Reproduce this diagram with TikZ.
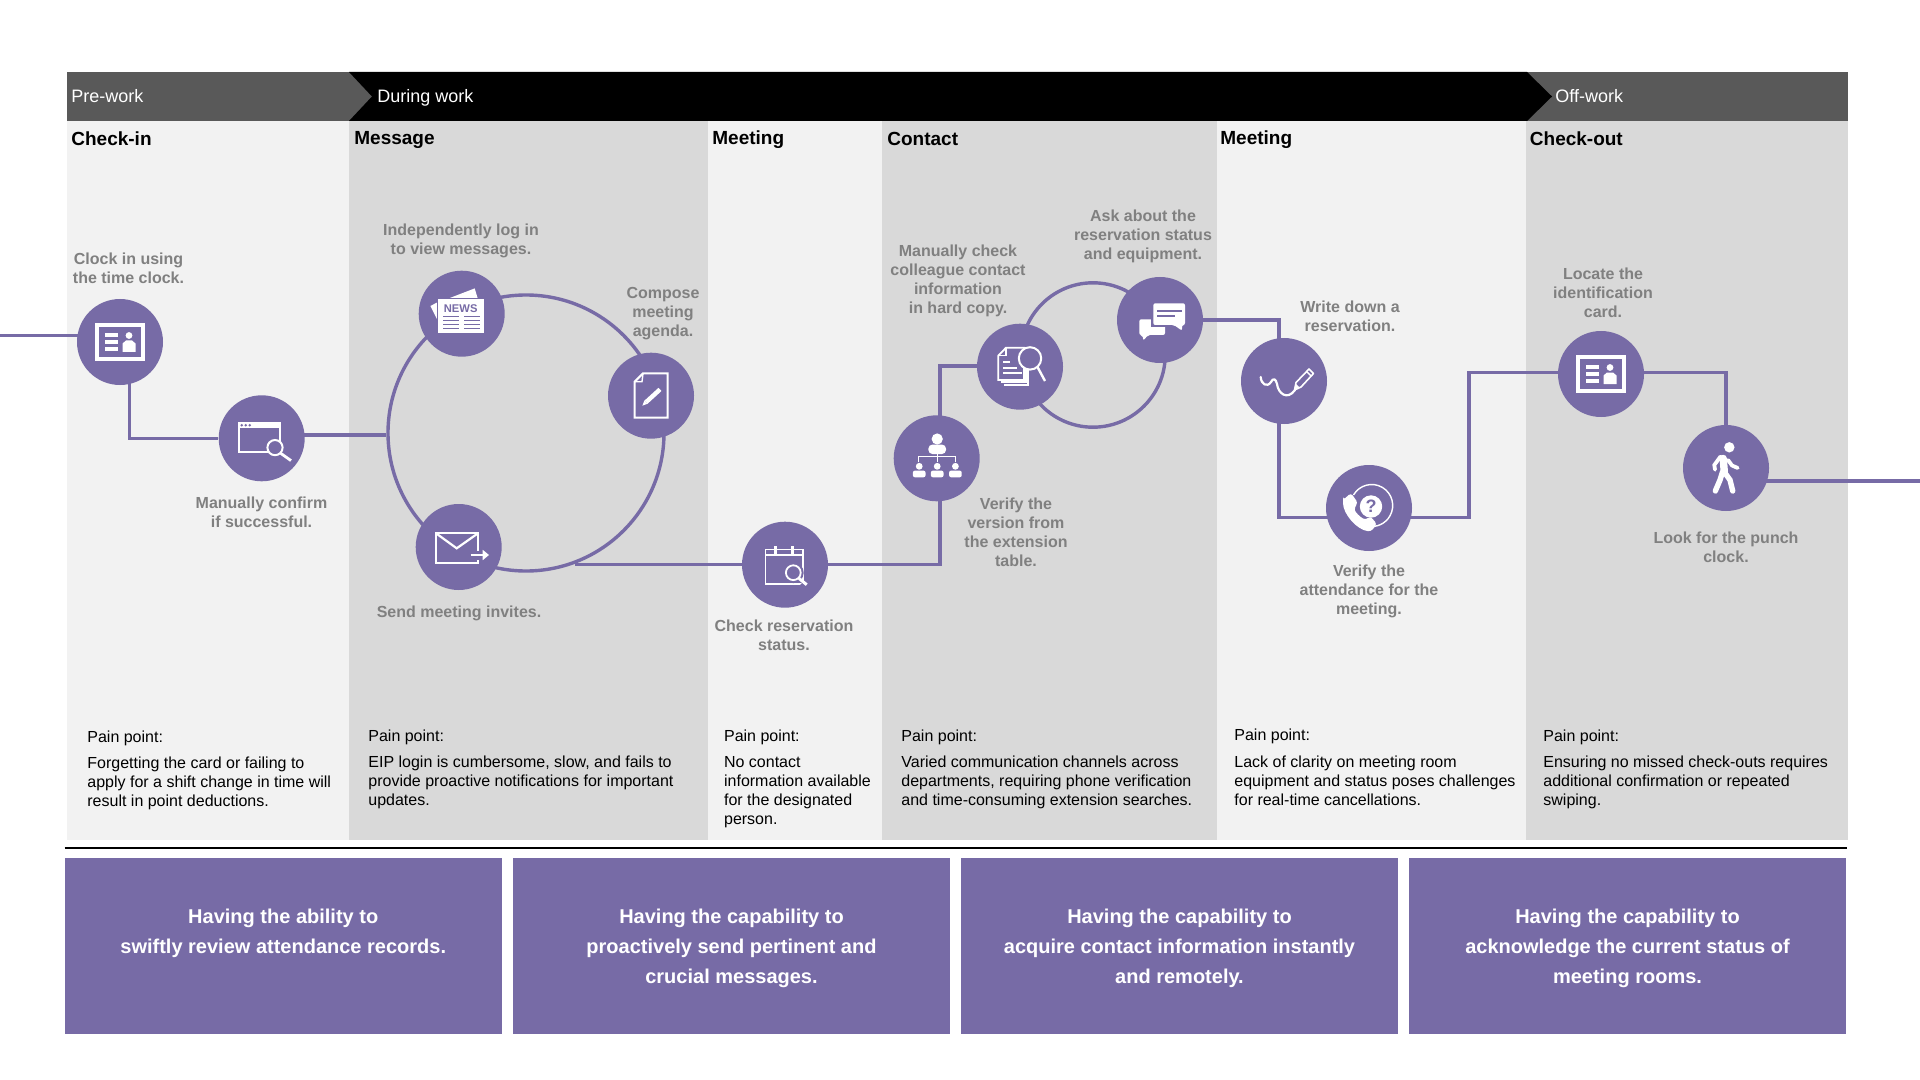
\documentclass[tikz,border=0pt]{standalone}
\usepackage{fontspec}
\setmainfont{Liberation Sans}
\usetikzlibrary{backgrounds}
\definecolor{purp}{HTML}{776BA6}
\definecolor{lightcol}{HTML}{F2F2F2}
\definecolor{darkcol}{HTML}{D9D9D9}
\definecolor{headgray}{HTML}{595959}
\definecolor{labgray}{HTML}{808080}
\tikzset{
  stepdot/.style={circle,fill=purp,minimum size=43pt,inner sep=0pt},
  conn/.style={draw=purp,line width=1.7pt},
  ringnode/.style={circle,draw=purp,line width=1.7pt,inner sep=0pt},
  lab/.style={align=center,text=labgray,inner sep=0pt,font=\fontsize{8.0}{9.5}\selectfont\bfseries},
  headtxt/.style={anchor=base west,text=white,inner sep=0pt,font=\fontsize{9.0}{11}\selectfont},
  coltitle/.style={anchor=base west,text=black,inner sep=0pt,font=\fontsize{9.5}{12}\selectfont\bfseries},
  pain/.style={anchor=west,align=left,text=black,inner sep=0pt,font=\fontsize{8.0}{9.5}\selectfont},
  boxnode/.style={fill=purp,text=white,align=center,inner sep=0pt,minimum width=218.5pt,minimum height=88pt,font=\fontsize{10}{15}\selectfont\bfseries},
  icl/.style={draw=white,line width=0.9pt},
  icf/.style={fill=white},
  icp/.style={fill=purp}
}
\newcommand{\idicon}{%
  \fill[icf] (-25,-19) rectangle (25,19);
  \fill[icp] (-21,-15) rectangle (21,15);
  \fill[icf] (-15,-9) rectangle (-2,-5);
  \fill[icf] (-15,-2) rectangle (-2,2);
  \fill[icf] (-15,5) rectangle (-2,9);
  \fill[icf] (9,-6.5) circle (1.7pt);
  \fill[icf] (2.5,10) -- (2.5,1.5) -- (6,-1.5) -- (12,-1.5) -- (15.5,1.5) -- (15.5,10) -- cycle;
}
\newcommand{\toprule}{\rule{0pt}{9.7pt}}
\begin{document}
\begin{tikzpicture}[x=0.5pt,y=-0.5pt]
\useasboundingbox (0,0) rectangle (1920,1080);
% step circles
\node[stepdot] (c1) at (120,342) {};
\node[stepdot] (c2) at (261.7,438.3) {};
\node[stepdot] (news) at (461.7,313.7) {};
\node[stepdot] (docn) at (651,395.7) {};
\node[stepdot] (mail) at (458.7,547) {};
\node[stepdot] (cal) at (785,564.7) {};
\node[stepdot] (org) at (936.7,458.3) {};
\node[stepdot] (ds) at (1020,366.7) {};
\node[stepdot] (chat) at (1160,320) {};
\node[stepdot] (pen) at (1284,381) {};
\node[stepdot] (phone) at (1369,508) {};
\node[stepdot] (idc) at (1601,374) {};
\node[stepdot] (walk) at (1726,468) {};
% free ends and bends
\coordinate (start) at (0,335.7);
\coordinate (j1) at (129.5,438.3);
\coordinate (j2) at (340,434.8);
\coordinate (rj) at (575,564.2);
\coordinate (j3) at (940,564.7);
\coordinate (j4) at (940,366);
\coordinate (j5) at (1279,320);
\coordinate (j6) at (1279,517.5);
\coordinate (j7) at (1469,517.5);
\coordinate (j8) at (1469,372.5);
\coordinate (j9) at (1726,372.5);
\coordinate (out) at (1920,481);
\begin{pgfonlayer}{background}
  % columns
  \fill[lightcol] (67,121) rectangle (349,839.5);
  \fill[darkcol] (349,121) rectangle (708,839.5);
  \fill[lightcol] (708,121) rectangle (882,839.5);
  \fill[darkcol] (882,121) rectangle (1217,839.5);
  \fill[lightcol] (1217,121) rectangle (1526,839.5);
  \fill[darkcol] (1526,121) rectangle (1848,839.5);
  % header band
  \fill[headgray] (66.5,72) rectangle (1848,121);
  \fill[black] (349,72) -- (1527,72) -- (1552,96.5) -- (1527,121) -- (349,121) -- (372,96.5) -- cycle;
  \draw[black,line width=0.9pt] (64.5,848.2) -- (1846.5,848.2);
  % rings
  \node[ringnode,minimum size=138pt] (ring) at (526,433) {};
  \node[ringnode,minimum size=72.2pt] (ring2) at (1093,355) {};
  % connectors
  \draw[conn] (start) -- (start -| c1);
  \draw[conn] (c1 -| j1) -- (j1) -- (c2);
  \draw[conn] (c2 |- j2) -- (ring.west |- j2);
  \draw[conn] (rj) -- (rj -| cal);
  \draw[conn] (cal) -- (j3) -- (j3 |- org);
  \draw[conn] (j3 |- org) -- (j4) -- (j4 -| ds);
  \draw[conn] (chat) -- (j5) -- (j5 |- pen);
  \draw[conn] (j5 |- pen) -- (j6) -- (j6 -| phone);
  \draw[conn] (j6 -| phone) -- (j7) -- (j8) -- (j8 -| idc);
  \draw[conn] (j8 -| idc) -- (j9) -- (walk);
  \draw[conn] (walk |- out) -- (out);
\end{pgfonlayer}
% header text
\node[headtxt] (hpre) at (71,103) {Pre-work};
\node[headtxt] (hdur) at (377,103) {During work};
\node[headtxt] (hoff) at (1555,103) {Off-work};
% column titles
\node[coltitle] (t1) at (71,146) {Check-in};
\node[coltitle] (t2) at (354,145) {Message};
\node[coltitle] (t3) at (712,145) {Meeting};
\node[coltitle] (t4) at (887,146) {Contact};
\node[coltitle] (t5) at (1220,145) {Meeting};
\node[coltitle] (t6) at (1529.5,146) {Check-out};
% labels
\node[lab] (l1) at (128.5,268.2) {Clock in using\\the time clock.};
\node[lab] (l2) at (261.5,512) {Manually confirm\\if successful.};
\node[lab] (l3) at (461,240.7) {Independently log in\\to view messages.};
\node[lab] (l4) at (663,314) {Compose\\meeting\\agenda.};
\node[lab] (l5) at (459,613) {Send meeting invites.};
\node[lab] (l6) at (784,635.5) {Check reservation\\status.};
\node[lab] (l7) at (958,281.2) {Manually check\\colleague contact\\information\\in hard copy.};
\node[lab] (l8) at (1143,236) {Ask about the\\reservation status\\and equipment.};
\node[lab] (l9) at (1016,532.6) {Verify the\\version from\\the extension\\table.};
\node[lab] (l10) at (1350,316.5) {Write down a\\reservation.};
\node[lab] (l11) at (1369,591) {Verify the\\attendance for the\\meeting.};
\node[lab] (l12) at (1603,293) {Locate the\\identification\\card.};
\node[lab] (l13) at (1726,547) {Look for the punch\\clock.};
% pain points
\node[pain] (p1) at (87,770.3) {Pain point:\\[3.8pt]Forgetting the card or failing to\\apply for a shift change in time will\\result in point deductions.};
\node[pain] (p2) at (368,769.5) {Pain point:\\[3.8pt]EIP login is cumbersome, slow, and fails to\\provide proactive notifications for important\\updates.};
\node[pain] (p3) at (723.7,779) {Pain point:\\[3.8pt]No contact\\information available\\for the designated\\person.};
\node[pain] (p4) at (901,769.3) {Pain point:\\[3.8pt]Varied communication channels across\\departments, requiring phone verification\\and time-consuming extension searches.};
\node[pain] (p5) at (1234,767.3) {Pain point:\\[3.8pt]Lack of clarity on meeting room\\equipment and status poses challenges\\for real-time cancellations.};
\node[pain] (p6) at (1543,769.3) {Pain point:\\[3.8pt]Ensuring no missed check-outs requires\\additional confirmation or repeated\\swiping.};
% bottom boxes
\node[boxnode] (b1) at (283.25,946) {Having the ability to\\swiftly review attendance records.\\\mbox{}};
\node[boxnode] (b2) at (731.5,946) {\toprule Having the capability to\\proactively send pertinent and\\crucial messages.};
\node[boxnode] (b3) at (1179.5,946) {\toprule Having the capability to\\acquire contact information instantly\\and remotely.};
\node[boxnode] (b4) at (1627.5,946) {\toprule Having the capability to\\acknowledge the current status of\\meeting rooms.};
% icons
\begin{scope}[shift={(c1.center)}]\idicon\end{scope}
\begin{scope}[shift={(idc.center)}]\idicon\end{scope}
% browser search
\begin{scope}[shift={(c2.center)}]
  \draw[icl] (-22.5,-15) rectangle (18.5,13.5);
  \fill[icf] (-23.3,-15.7) rectangle (19,-10.5);
  \foreach \i in {-20,-16,-12}{\fill[icp] (\i,-13.1) circle (0.7pt);}
  \draw[icl,fill=purp,line width=1pt] (13.3,9.3) circle (3.8pt);
  \draw[icl,line width=1.4pt] (19,15) -- (29.3,22.3);
\end{scope}
% news
\begin{scope}[shift={(news.center)}]
  \fill[icf] (-13.7,-15) -- (13,-25.3) -- (16.3,-14.3) -- cycle;
  \fill[icf] (-31.3,-7.7) -- (-23.7,-11.7) -- (-23.7,7.3) -- cycle;
  \fill[icp] (-25.2,-15.8) rectangle (23.5,20.5);
  \fill[icf] (-23.7,-14.3) rectangle (22,19);
  \node[inner sep=0pt,text=purp,font=\fontsize{5.6}{6}\selectfont\bfseries] (newst) at (-1,-5.3) {NEWS};
  \foreach \y in {3,7,11,15}{
    \draw[draw=purp,line width=0.6pt] (-18.7,\y) -- (-2.7,\y);
    \draw[draw=purp,line width=0.6pt] (2.3,\y) -- (18.3,\y);}
\end{scope}
% document with pen
\begin{scope}[shift={(docn.center)}]
  \draw[icl,line width=1pt] (-8,-22.3) -- (16.6,-22.3) -- (16.6,22) -- (-16.3,22) -- (-16.3,-14) -- cycle;
  \draw[icl,line width=0.7pt] (-16.3,-14) -- (-9,-14) -- (-8,-22.3);
  \draw[draw=white,line width=2.2pt] (-5,6.5) -- (9,-6.3);
  \fill[icf] (-8.6,10) -- (-6.6,4.7) -- (-3.4,8) -- cycle;
\end{scope}
% mail
\begin{scope}[shift={(mail.center)}]
  \draw[icl,line width=1.1pt] (-22.7,-13.7) rectangle (19.3,15.7);
  \draw[icl,line width=1.1pt] (-22.7,-13.7) -- (-2,1.3) -- (19.3,-13.7);
  \fill[icp] (9,3.5) rectangle (31,12.5);
  \draw[draw=white,line width=1.3pt] (12,8) -- (27,8);
  \fill[icf] (30.3,8) -- (24,2.8) -- (24,13.2) -- cycle;
\end{scope}
% calendar search
\begin{scope}[shift={(cal.center)}]
  \draw[icl] (-19.5,-15.2) rectangle (17.8,19.2);
  \draw[icl] (-19.5,-9.7) -- (17.8,-9.7);
  \draw[draw=white,line width=1.6pt] (-9.3,-18.7) -- (-9.3,-10.7);
  \draw[draw=white,line width=1.6pt] (7.3,-18.7) -- (7.3,-10.7);
  \fill[icp] (8.3,8) circle (5.2pt);
  \draw[icl] (8.3,8) circle (3.7pt);
  \fill[icp] (21,21.5) -- (21,14) -- (14,21.5) -- cycle;
  \draw[draw=white,line width=1.5pt] (14,13.7) -- (21.7,20);
\end{scope}
% org chart
\begin{scope}[shift={(org.center)}]
  \fill[icf] (0.5,-19.3) circle (2.8pt);
  \fill[icf,rounded corners=2pt] (-8.3,-4.3) -- (-8.3,-13.7) -- (9.3,-13.7) -- (9.3,-4.3) -- cycle;
  \draw[draw=white,line width=0.5pt] (0.5,-4.3) -- (0.5,4);
  \draw[draw=white,line width=0.5pt] (-18,4) -- (-18,-1.7) -- (18.7,-1.7) -- (18.7,4);
  \foreach \x in {-17.5,0.5,18.7}{
    \fill[icf] (\x,8) circle (1.7pt);
    \fill[icf,rounded corners=1pt] (\x-6.3,19) -- (\x-6.3,12.3) -- (\x+6.3,12.3) -- (\x+6.3,19) -- cycle;}
\end{scope}
% document search
\begin{scope}[shift={(ds.center)}]
  \draw[icl] (8.3,-5) -- (8.3,18.3) -- (-16,18.3);
  \draw[icl] (6,-5) -- (6,15.5) -- (-19,15.5);
  \draw[icl,fill=purp] (-14,-19) -- (4,-19) -- (4,13.3) -- (-21.7,13.3) -- (-21.7,-11) -- cycle;
  \draw[icl,line width=0.7pt] (-21.7,-11) -- (-14,-11) -- (-14,-19);
  \fill[icf] (-17,-6) rectangle (-10,-3.5);
  \draw[icl] (-17,1.3) -- (-3,1.3);
  \draw[icl] (-17,6.3) -- (1.5,6.3);
  \draw[icl,fill=purp,line width=1pt] (10,-8.3) circle (5.6pt);
  \draw[draw=white,line width=1.2pt] (17.3,0) -- (25,14.3);
\end{scope}
% chat
\begin{scope}[shift={(chat.center)}]
  \fill[icf,rounded corners=1pt] (-20.7,-0.7) -- (5,-0.7) -- (5,15) -- (-12,15) -- (-16.7,20.7) -- (-17.5,15) -- (-20.7,15) -- cycle;
  \fill[icp] (-9,-18.8) rectangle (27,7);
  \fill[icp] (13,4) -- (24,13) -- (27,4) -- cycle;
  \fill[icf,rounded corners=1pt] (-6.7,-16.7) -- (25,-16.7) -- (25,5) -- (22,5) -- (22,10.7) -- (14,5) -- (-6.7,5) -- cycle;
  \draw[draw=purp,line width=1pt] (-3,-9.3) -- (22,-9.3);
  \draw[draw=purp,line width=1pt] (-3,-4) -- (15,-4);
\end{scope}
% signature with pen
\begin{scope}[shift={(pen.center)}]
  \draw[icl,line width=1.1pt,line cap=round] (-23.3,-4) .. controls (-23,3) and (-17,7) .. (-13,1) .. controls (-11,-3.5) and (-8,-2) .. (-7,3) .. controls (-6,12) and (3,20) .. (11,9);
  \draw[icl,line width=0.8pt,line join=round] (10.5,9) -- (12,1.5) -- (25,-12) -- (29.5,-7.5) -- (17,6) -- cycle;
  \fill[icf] (10.5,9) -- (12,3) -- (15.5,6.5) -- cycle;
  \draw[icl,line width=0.7pt] (22.5,-9.5) -- (27,-5);
\end{scope}
% phone
\begin{scope}[shift={(phone.center)}]
  \fill[icf] (2,-1.5) circle (5.6pt);
  \node[inner sep=0pt,text=purp,font=\fontsize{9}{10}\selectfont\bfseries] (qmark) at (2,-1.5) {?};
  \draw[icl,line width=0.7pt] (-15.5,-13) arc[start angle=150,end angle=-100,radius=10.5pt];
  \fill[icf,rounded corners=1.5pt] (-26,-8) -- (-18,-15) -- (-11,-5) -- (-14.5,-1) .. controls (-14,4) and (-9,9) .. (-3,12) -- (1,8) -- (8,16) -- (2,23.5) .. controls (-12,22) and (-26,6) .. cycle;
\end{scope}
% walking person
\begin{scope}[shift={(walk.center)}]
  \fill[icf] (3.3,-20.7) circle (2.6pt);
  \draw[draw=white,line width=3.7pt,line cap=round] (-2.8,-9.5) -- (-1.7,4);
  \draw[draw=white,line width=1.9pt,line cap=round] (-5.5,-11.5) -- (-11.7,-3) -- (-11,1.7);
  \draw[draw=white,line width=1.9pt,line cap=round] (2,-8) -- (6,-2.5) -- (11.7,0);
  \draw[draw=white,line width=2.7pt,line cap=round] (-3.5,4) -- (-6,12) -- (-10.7,23);
  \draw[draw=white,line width=2.7pt,line cap=round] (-1,5) -- (4,12) -- (6.7,23);
\end{scope}
\end{tikzpicture}
\end{document}
